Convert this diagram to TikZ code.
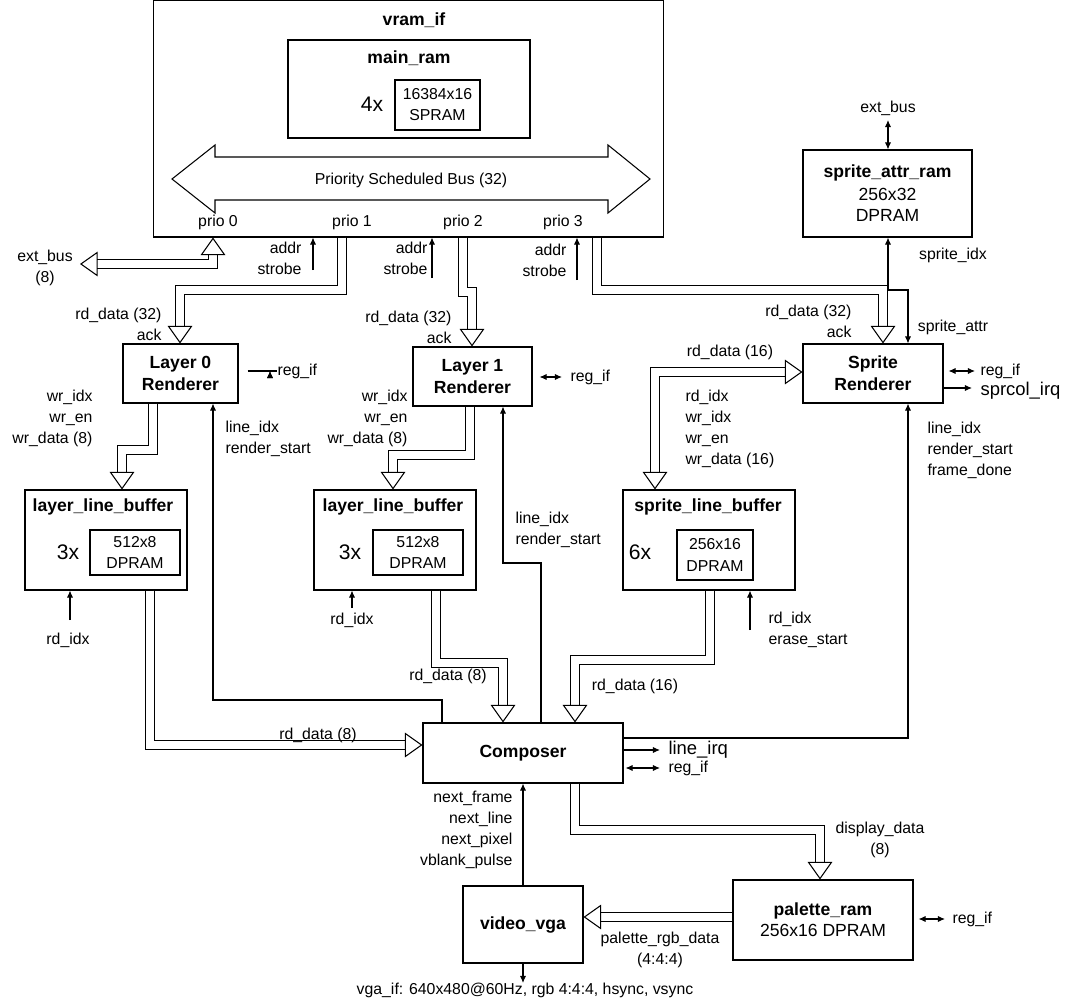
\documentclass[tikz,border=0pt]{standalone}
\usepackage{fontspec}
\setmainfont{Liberation Sans}
\usetikzlibrary{arrows.meta, positioning}
\tikzset{>=latex}

\begin{document}
\begin{tikzpicture}[x=0.02cm, y=-0.02cm, line width=0.6pt,
    font=\fontsize{9}{12}\selectfont,
    box/.style={draw, inner sep=0pt},
    title/.style={font=\fontsize{10}{12.5}\selectfont\bfseries},
    lbl/.style={inner sep=0pt},
    sig/.style={-{Latex[length=4pt,width=3.5pt]}},
    sigbi/.style={{Latex[length=4pt,width=3.5pt]}-{Latex[length=4pt,width=3.5pt]}},
    fat/.style={double, double distance=5pt, -{Triangle[open,length=10pt,width=14pt]}},
    fatbi/.style={double, double distance=5pt, {Triangle[open,length=10pt,width=14pt]}-{Triangle[open,length=10pt,width=14pt]}}]
   \useasboundingbox (0,0) rectangle (1066,1001);

   % vram_if with main_ram and the bus
   \node[box, minimum width=10.22cm, minimum height=4.74cm] (vram) at (408.5,118.5) {};
   \node[title] (vramt) at (414,20) {vram\_if};
   \node[box, minimum width=4.84cm, minimum height=1.96cm] (mainram) at (409,89) {};
   \node[title] (mainramt) at (409,58) {main\_ram};
   \node[lbl, font=\fontsize{12}{14}\selectfont] (mainn) at (372,104) {4x};
   \node[box, minimum width=1.7cm, minimum height=1.0cm, align=center] (spram) at (437.5,105) {16384x16\\SPRAM};
   \draw (172,179) -- (215,145) -- (215,157) -- (608,157) -- (608,145) -- (650,179)
     -- (608,213) -- (608,200) -- (215,200) -- (215,213) -- cycle;
   \node[lbl] (bus) at (411,180) {Priority Scheduled Bus (32)};
   \node[lbl] (p0) at (218,222) {prio 0};
   \node[lbl] (p1) at (352,222) {prio 1};
   \node[lbl] (p2) at (463,222) {prio 2};
   \node[lbl] (p3) at (563,222) {prio 3};

   % renderers
   \node[box, minimum width=2.3cm, minimum height=1.18cm, title, align=center] (l0) at (180.5,373.5) {Layer 0\\Renderer};
   \node[box, minimum width=2.38cm, minimum height=1.18cm, title, align=center] (l1) at (472.5,376.5) {Layer 1\\Renderer};
   \node[box, minimum width=2.8cm, minimum height=1.18cm, title, align=center] (spr) at (873,373.5) {Sprite\\Renderer};
   \node[box, minimum width=3.38cm, minimum height=1.74cm, align=center] (attr) at (887.5,193.5)
     {\textbf{\fontsize{10}{12.5}\selectfont sprite\_attr\_ram}\\[1pt]{\fontsize{10}{12.5}\selectfont 256x32}\\{\fontsize{10}{12.5}\selectfont DPRAM}};

   % line buffers
   \node[box, minimum width=3.24cm, minimum height=2cm] (lb0) at (106,540) {};
   \node[title] (lb0t) at (103,507) {layer\_line\_buffer};
   \node[lbl, font=\fontsize{12}{14}\selectfont] (lb0n) at (68,552) {3x};
   \node[box, minimum width=1.8cm, minimum height=0.9cm, align=center] (lb0r) at (135,552.5) {512x8\\DPRAM};
   \node[box, minimum width=3.24cm, minimum height=2cm] (lb1) at (395,540) {};
   \node[title] (lb1t) at (393,507) {layer\_line\_buffer};
   \node[lbl, font=\fontsize{12}{14}\selectfont] (lb1n) at (350,552) {3x};
   \node[box, minimum width=1.8cm, minimum height=0.9cm, align=center] (lb1r) at (418,552.5) {512x8\\DPRAM};
   \node[box, minimum width=3.44cm, minimum height=2cm] (slb) at (709,540) {};
   \node[title] (slbt) at (708,507) {sprite\_line\_buffer};
   \node[lbl, font=\fontsize{12}{14}\selectfont] (slbn) at (640,552) {6x};
   \node[box, minimum width=1.52cm, minimum height=1.0cm, align=center] (slbr) at (715,555) {256x16\\DPRAM};

   % composer and output
   \node[box, minimum width=4cm, minimum height=1.2cm, title] (comp) at (523,753) {Composer};
   \node[box, minimum width=3.6cm, minimum height=1.6cm, align=center] (pal) at (823,920)
     {\textbf{\fontsize{10}{12.5}\selectfont palette\_ram}\\{\fontsize{10}{12.5}\selectfont 256x16 DPRAM}};
   \node[box, minimum width=2.4cm, minimum height=1.54cm, title] (vga) at (523,924.5) {video\_vga};

   % wide buses
   \draw[fatbi] (vram.south -| 213,0) -- (213,264) -- (80,264);
   \draw[fat] (vram.south -| 342,0) -- (342,290) -- (180,290) -- (l0.north -| 180,0);
   \draw[fat] (vram.south -| 463,0) -- (463,292) -- (472,292) -- (l1.north -| 472,0);
   \draw[fat] (vram.south -| 597,0) -- (597,290) -- (883,290) -- (spr.north -| 883,0);
   \draw[fatbi] (slb.north -| 655,0) -- (655,372) -- (spr.west |- 0,372);
   \draw[fat] (l0.south -| 153,0) -- (153,450) -- (122,450) -- (lb0.north -| 122,0);
   \draw[fat] (l1.south -| 470,0) -- (470,455) -- (393,455) -- (lb1.north -| 393,0);
   \draw[fat] (lb0.south -| 150,0) -- (150,745) -- (comp.west |- 0,745);
   \draw[fat] (lb1.south -| 436,0) -- (436,663) -- (503,663) -- (comp.north -| 503,0);
   \draw[fat] (slb.south -| 710,0) -- (710,660) -- (575,660) -- (comp.north -| 575,0);
   \draw[fat] (comp.south -| 575,0) -- (575,830) -- (820,830) -- (pal.north -| 820,0);
   \draw[fat] (pal.west |- 0,917) -- (vga.east |- 0,917);

   % bus labels
   \node[lbl, align=center] (extbus) at (45,268) {ext\_bus\\(8)};
   \node[lbl, align=right, anchor=east] (as1) at (302,258) {addr\\strobe};
   \node[lbl, align=right, anchor=east] (as2) at (428,258) {addr\\strobe};
   \node[lbl, align=right, anchor=east] (as3) at (567,260) {addr\\strobe};
   \node[lbl, align=right, anchor=east] (rd0) at (162,324) {rd\_data (32)\\ack};
   \node[lbl, align=right, anchor=east] (rd1) at (452,327) {rd\_data (32)\\ack};
   \node[lbl, align=right, anchor=east] (rd3) at (852,321) {rd\_data (32)\\ack};
   \node[lbl] (rd16) at (730,352) {rd\_data (16)};
   \node[lbl, align=left, anchor=west] (swr) at (685,429) {rd\_idx\\wr\_idx\\wr\_en\\wr\_data (16)};
   \node[lbl, align=right, anchor=east] (wr0) at (93,418) {wr\_idx\\wr\_en\\wr\_data (8)};
   \node[lbl, align=right, anchor=east] (wr1) at (408,418) {wr\_idx\\wr\_en\\wr\_data (8)};
   \node[lbl] (rdd0) at (318,735) {rd\_data (8)};
   \node[lbl] (rdd1) at (448,676) {rd\_data (8)};
   \node[lbl] (rdds) at (635,686) {rd\_data (16)};
   \node[lbl, align=center] (disp) at (880,840) {display\_data\\(8)};
   \node[lbl, align=center] (rgb) at (660,950) {palette\_rgb\_data\\(4:4:4)};

   % single signals
   \coordinate (as1a) at (313,270);
   \coordinate (as2a) at (432,278);
   \coordinate (as3a) at (577,280);
   \draw[sig] (as1a) -- (vram.south -| as1a);
   \draw[sig] (as2a) -- (vram.south -| as2a);
   \draw[sig] (as3a) -- (vram.south -| as3a);
   \node[lbl] (extbus2) at (888,108) {ext\_bus};
   \draw[sigbi] (888,120) -- (attr.north -| 888,0);
   \draw[sigbi] (attr.south -| 888,0) -- (888,290) -- (908,290) -- (spr.north -| 908,0);
   \node[lbl] (sidx) at (953,255) {sprite\_idx};
   \node[lbl] (sattr) at (953,327) {sprite\_attr};

   \node[lbl, anchor=west] (rif0) at (277,371) {reg\_if};
   \draw[sigbi] (l0.east |- rif0) ++(9,0) coordinate (rif0a) -- (rif0.west) ++(-7,0);
   \node[lbl, anchor=west] (rif1) at (570,377) {reg\_if};
   \node[lbl, anchor=west] (rifs) at (980,371) {reg\_if};
   \node[lbl, anchor=west, font=\fontsize{10.5}{12}\selectfont] (irqs) at (980,391) {sprcol\_irq};
   \coordinate (rif0e) at (270,371);
   \coordinate (rif1e) at (562,377);
   \coordinate (rifse) at (975,371);
   \coordinate (irqse) at (972,388);
   \draw[sigbi] (l1.east |- rif1e) ++(7,0) -- (rif1e);
   \draw[sigbi] (spr.east |- rifse) ++(5,0) -- (rifse);
   \draw[sig] (spr.east |- irqse) -- (irqse);

   \coordinate (lb0i) at (70,620);
   \coordinate (lb1i) at (352,608);
   \coordinate (slbi) at (750,630);
   \draw[sig] (lb0i) -- (lb0.south -| lb0i);
   \draw[sig] (lb1i) -- (lb1.south -| lb1i);
   \draw[sig] (slbi) -- (slb.south -| slbi);
   \node[lbl] (lb0in) at (68,640) {rd\_idx};
   \node[lbl] (lb1in) at (352,620) {rd\_idx};
   \node[lbl, align=left, anchor=west] (slbin) at (768,630) {rd\_idx\\erase\_start};

   \draw[sig] (comp.north -| 442,0) -- (442,700) -- (213,700) -- (l0.south -| 213,0);
   \node[lbl, align=left, anchor=west] (li0) at (225,439) {line\_idx\\render\_start};
   \draw[sig] (comp.north -| 541,0) -- (541,563) -- (503,563) -- (l1.south -| 503,0);
   \node[lbl, align=left, anchor=west] (li1) at (515,530) {line\_idx\\render\_start};
   \draw[sig] (comp.east |- 0,738) -- (908,738) -- (spr.south -| 908,0);
   \node[lbl, align=left, anchor=west] (lis) at (927,450) {line\_idx\\render\_start\\frame\_done};

   \node[lbl, anchor=west, font=\fontsize{10.5}{12}\selectfont] (lirq) at (668,750) {line\_irq};
   \node[lbl, anchor=west] (rifc) at (668,768) {reg\_if};
   \draw[sig] (comp.east |- lirq) -- (660,750);
   \draw[sigbi] (comp.east |- rifc) ++(2,0) -- (660,768);
   \node[lbl, anchor=west] (rifp) at (952,919) {reg\_if};
   \draw[sigbi] (pal.east |- rifp) ++(5,0) -- (945,919);

   \draw[sig] (vga.north) -- (comp.south -| vga.north);
   \node[lbl, align=right, anchor=east] (vsig) at (513,830) {next\_frame\\next\_line\\next\_pixel\\vblank\_pulse};
   \coordinate (vgaout) at (523,983);
   \draw[sig] (vga.south) -- (vgaout);
   \node[lbl] (vgaif) at (525,990) {vga\_if: 640x480@60Hz, rgb 4:4:4, hsync, vsync};
\end{tikzpicture}
\end{document}
